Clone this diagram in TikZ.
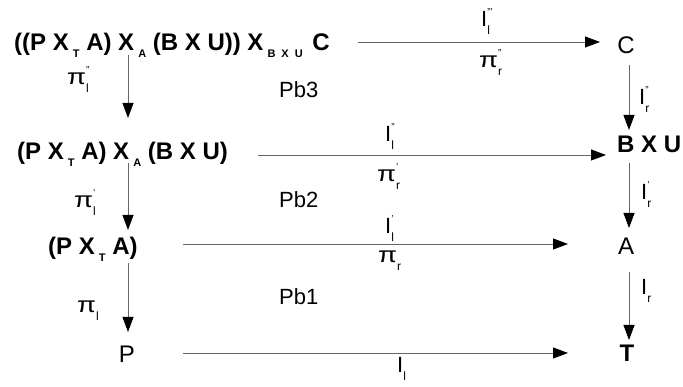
\documentclass[tikz,border=0pt]{standalone}
\usepackage{fontspec}
\setmainfont{Liberation Sans}
\usetikzlibrary{arrows.meta}
\newcommand\sbx[1]{\,\raisebox{-7pt}{\fontsize{11}{11}\selectfont #1}}
\newcommand\lbl[3]{#1\rlap{\raisebox{-8pt}{\fontsize{12}{12}\selectfont #2}}\raisebox{11pt}{\fontsize{10}{10}\selectfont #3}}
\newcommand\ppi{\scalebox{1.25}[1]{π}}
\tikzset{
  arr/.style={draw=black!60, line width=0.9pt, -{Triangle[length=15pt,width=11pt,color=black]}},
  obj/.style={inner sep=0pt, anchor=base, font=\fontsize{24}{24}\selectfont},
  bobj/.style={obj, font=\fontsize{24}{24}\selectfont\bfseries},
  lab/.style={inner sep=0pt, anchor=base west, font=\fontsize{22}{22}\selectfont},
}
\begin{document}
\begin{tikzpicture}[x=1pt,y=1pt]
\useasboundingbox (0,0) rectangle (683,387);
% objects
\node[bobj, anchor=base west] (n1) at (14,336) {((P X\sbx{T} A) X\sbx{A} (B X U)) X\sbx{B\hspace{6pt}X\hspace{6pt}U}\hspace{3pt} C};
\node[obj] (c) at (626,333) {C};
\node[bobj, anchor=base west] (n2) at (17,227) {(P X\sbx{T} A) X\sbx{A} (B X U)};
\node[bobj, anchor=base west] (bxu) at (617,234) {B X U};
\node[bobj, anchor=base west] (n3) at (48,132) {(P X\sbx{T} A)};
\node[obj] (a) at (626,132) {A};
\node[obj] (p) at (127,24) {P};
\node[bobj] (t) at (627,25) {T};
% pullback labels
\node[lab] (pb3) at (279,289) {Pb3};
\node[lab] (pb2) at (279,179) {Pb2};
\node[lab] (pb1) at (279,82) {Pb1};
% arrow ends
\coordinate (h1s) at (358,345); \coordinate (h1e) at (600,345);
\coordinate (h2s) at (258,232); \coordinate (h2e) at (606,232);
\coordinate (h3s) at (183,143); \coordinate (h3e) at (568,143);
\coordinate (h4s) at (183,34);  \coordinate (h4e) at (568,34);
\coordinate (l1s) at (128,332); \coordinate (l1e) at (128,269);
\coordinate (l2s) at (128,224); \coordinate (l2e) at (128,157);
\coordinate (l3s) at (128,124); \coordinate (l3e) at (128,55);
\coordinate (r1s) at (629,322); \coordinate (r1e) at (629,257);
\coordinate (r2s) at (629,224); \coordinate (r2e) at (629,159);
\coordinate (r3s) at (629,115); \coordinate (r3e) at (629,47);
\draw[arr] (h1s) -- (h1e);
\draw[arr] (h2s) -- (h2e);
\draw[arr] (h3s) -- (h3e);
\draw[arr] (h4s) -- (h4e);
\draw[arr] (l1s) -- (l1e);
\draw[arr] (l2s) -- (l2e);
\draw[arr] (l3s) -- (l3e);
\draw[arr] (r1s) -- (r1e);
\draw[arr] (r2s) -- (r2e);
\draw[arr] (r3s) -- (r3e);
% arrow labels
\node[lab] (li3) at (481,360) {\lbl{I}{l}{'''}};
\node[lab] (pr2) at (479,319) {\lbl{\ppi}{r}{''}};
\node[lab] (li2) at (385,245) {\lbl{I}{l}{''}};
\node[lab] (pr1) at (377,205) {\lbl{\ppi}{r}{'}};
\node[lab] (li1) at (385,153) {\lbl{I}{l}{'}};
\node[lab] (pr0) at (378,124) {\lbl{\ppi}{r}{}};
\node[lab] (li0) at (397,14) {\lbl{I}{l}{}};
\node[lab] (pl2) at (67,302) {\lbl{\ppi}{l}{''}};
\node[lab] (pl1) at (74,179) {\lbl{\ppi}{l}{'}};
\node[lab] (pl0) at (77,74) {\lbl{\ppi}{l}{}};
\node[lab] (ir2) at (639,282) {\lbl{I}{r}{''}};
\node[lab] (ir1) at (641,187) {\lbl{I}{r}{'}};
\node[lab] (ir0) at (641,92) {\lbl{I}{r}{}};
\end{tikzpicture}
\end{document}
